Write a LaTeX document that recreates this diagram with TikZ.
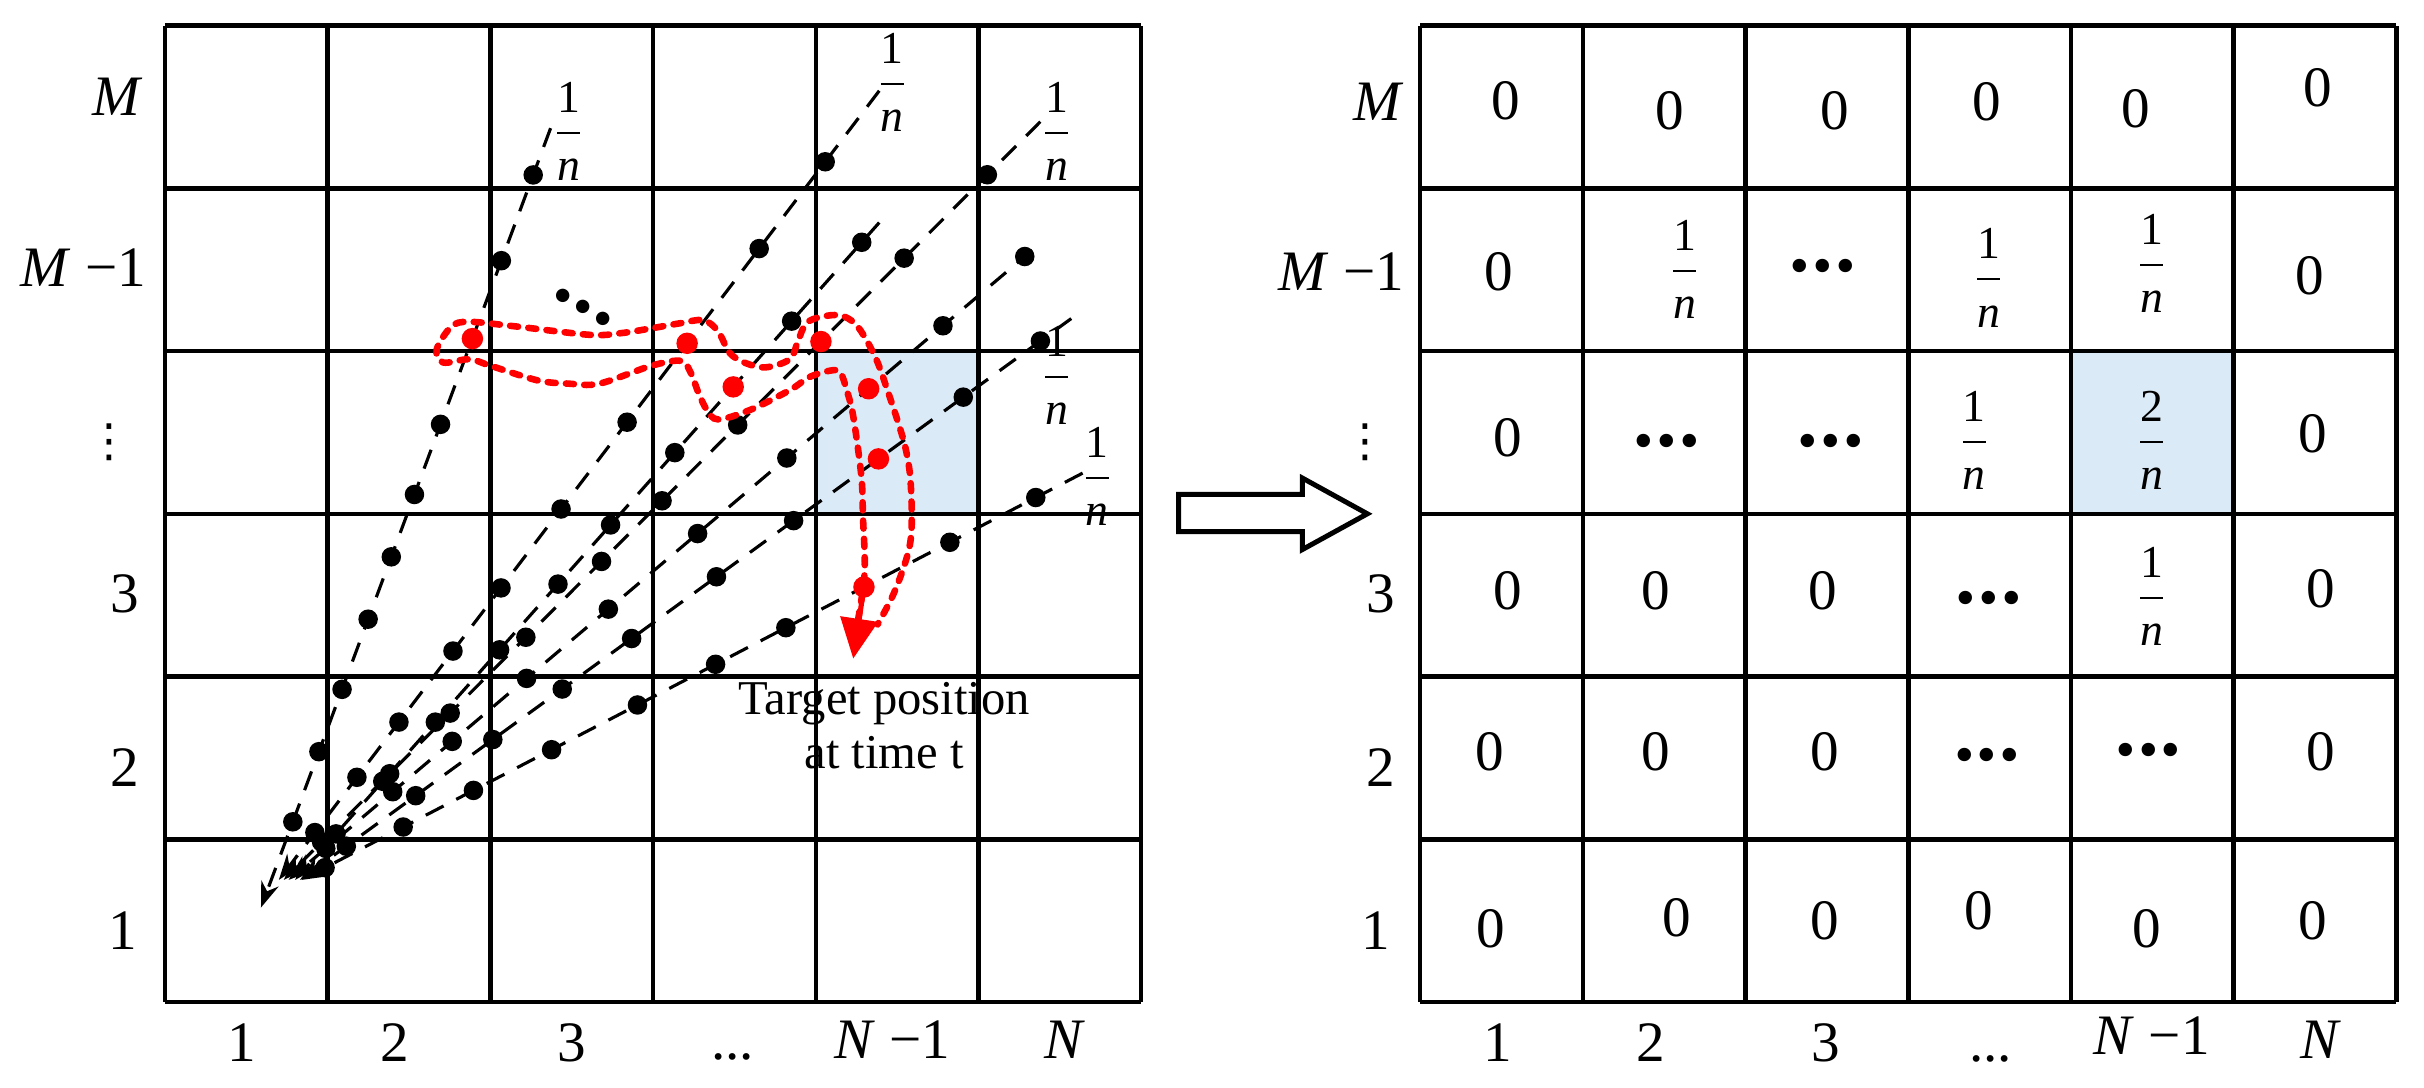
\documentclass[tikz,border=0pt]{standalone}
\usepackage{amsmath}
\usepackage{fontspec}
\setmainfont{Liberation Serif}
\newfontfamily\symfont{DejaVu Sans}
\usepackage{tikz}
\usetikzlibrary{arrows.meta, calc}

\definecolor{cellblue}{RGB}{219,234,247}
\definecolor{trackred}{RGB}{255,0,0}

\newcommand{\fracn}[1]{$\dfrac{\text{\footnotesize #1}}{\text{\footnotesize\itshape n}}$}
\newcommand{\celldots}{\textbf{\Large .\kern0.4pt.\kern0.4pt.}}
\newcommand{\coldots}{{\symfont\footnotesize ⋮}}

\begin{document}
\begin{tikzpicture}[
        gridline/.style={line width=0.8pt},
        trail/.style={line width=0.55pt, dash pattern=on 3.5pt off 2.5pt, -{Stealth[length=4.5pt, width=3.2pt]}},
        redtrail/.style={trackred, line width=1.15pt, line cap=round, dash pattern=on 1.4pt off 1.8pt},
        fracnode/.style={inner sep=0pt, font=\small}]
            \useasboundingbox (-1.014,-0.529) rectangle (13.884,6.158);

            \fill[cellblue] (4,3) rectangle (5,4);
            \draw[gridline] (0,0) grid (6,6);
            \begin{scope}[xshift=7.714cm]
                \fill[cellblue] (4,3) rectangle (5,4);
                \draw[gridline] (0,0) grid (6,6);
            \end{scope}

            \node at (-0.29, 5.56) (ly6) {\textit{M}};
            \node at (-0.50, 4.51) (ly5) {\textit{M} −1};
            \node at (-0.34, 3.44) (ly4) {\coldots};
            \node at (-0.25, 2.51) (ly3) {3};
            \node at (-0.25, 1.44) (ly2) {2};
            \node at (-0.26, 0.44) (ly1) {1};
            \node at (0.47, -0.25) (lx1) {1};
            \node at (1.41, -0.25) (lx2) {2};
            \node at (2.50, -0.25) (lx3) {3};
            \node at (3.49, -0.34) (lx4) {...};
            \node at (4.47, -0.23) (lx5) {\textit{N} −1};
            \node at (5.53, -0.23) (lx6) {\textit{N}};

            \coordinate (t1s) at (0.59, 0.58); \coordinate (t1e) at (2.37, 5.37);
            \coordinate (t2s) at (0.70, 0.75); \coordinate (t2e) at (4.39, 5.60);
            \coordinate (t3s) at (0.80, 0.75); \coordinate (t3e) at (4.39, 4.79);
            \coordinate (t4s) at (0.73, 0.75); \coordinate (t4e) at (5.38, 5.41);
            \coordinate (t5s) at (0.76, 0.75); \coordinate (t5e) at (5.33, 4.62);
            \coordinate (t6s) at (0.83, 0.75); \coordinate (t6e) at (5.57, 4.20);
            \coordinate (t7s) at (0.84, 0.75); \coordinate (t7e) at (5.64, 3.25);

            \foreach \t in {1,...,7}
                \draw[trail] (t\t e) -- (t\t s);

            \foreach \p in {0.11,0.20,0.28,0.37,0.45,0.53,0.62,0.83,0.94}
                \fill ($(t1s)!\p!(t1e)$) circle[radius=0.06];
            \foreach \p in {0.06,0.13,0.20,0.29,0.37,0.47,0.58,0.80,0.91}
                \fill ($(t2s)!\p!(t2e)$) circle[radius=0.06];
            \foreach \p in {0.07,0.15,0.24,0.35,0.45,0.54,0.65,0.85,0.97}
                \fill ($(t3s)!\p!(t3e)$) circle[radius=0.06];
            \foreach \p in {0.05,0.14,0.22,0.32,0.42,0.50,0.60,0.82,0.93}
                \fill ($(t4s)!\p!(t4e)$) circle[radius=0.06];
            \foreach \p in {0.05,0.14,0.22,0.32,0.43,0.55,0.67,0.88,0.99}
                \fill ($(t5s)!\p!(t5e)$) circle[radius=0.06];
            \foreach \p in {0.06,0.15,0.25,0.34,0.43,0.54,0.64,0.86,0.96}
                \fill ($(t6s)!\p!(t6e)$) circle[radius=0.06];
            \foreach \p in {0.03,0.13,0.22,0.32,0.43,0.53,0.62,0.83,0.94}
                \fill ($(t7s)!\p!(t7e)$) circle[radius=0.06];

            \node[fracnode] at (2.48, 5.35) (f1) {\fracn{1}};
            \node[fracnode] at (4.47, 5.65) (f2) {\fracn{1}};
            \node[fracnode] at (5.48, 5.35) (f4) {\fracn{1}};
            \node[fracnode] at (5.48, 3.85) (f6) {\fracn{1}};
            \node[fracnode] at (5.73, 3.23) (f7) {\fracn{1}};
            \node[rotate=-30] at (2.57, 4.27) (more) {\celldots};

            \draw[redtrail] plot[smooth, tension=0.55] coordinates {
                (4.26,2.35) (4.30,2.64) (4.29,2.98) (4.28,3.23) (4.23,3.60) (4.19,3.76)
                (4.15,3.87) (4.09,3.88) (3.96,3.84) (3.84,3.76) (3.60,3.64) (3.40,3.58)
                (3.33,3.64) (3.28,3.74) (3.23,3.87) (3.17,3.94) (2.99,3.91) (2.67,3.80)
                (2.48,3.80) (2.29,3.82) (2.00,3.91) (1.87,3.95) (1.71,3.93) (1.67,4.01)
                (1.76,4.15) (1.87,4.18) (2.17,4.15) (2.61,4.10) (2.80,4.11) (2.99,4.14)
                (3.16,4.17) (3.31,4.19) (3.40,4.12) (3.47,3.99) (3.56,3.93) (3.69,3.90)
                (3.84,3.95) (3.89,4.06) (3.94,4.17) (4.03,4.21) (4.15,4.22) (4.24,4.17)
                (4.31,4.07) (4.38,3.93) (4.44,3.76) (4.50,3.58) (4.55,3.41) (4.58,3.23)
                (4.59,2.98) (4.58,2.82) (4.54,2.67) (4.47,2.49) (4.38,2.32)};

            \foreach \t/\p in {1/0.73, 2/0.68, 3/0.75, 4/0.71, 5/0.78, 6/0.75, 7/0.72}
                \fill[trackred] ($(t\t s)!\p!(t\t e)$) circle[radius=0.066];
            \coordinate (r7) at ($(t7s)!0.72!(t7e)$);
            \coordinate (rtip) at (4.23, 2.11);
            \draw[trackred, line width=0.9pt, -{Triangle[length=7pt, width=6.5pt]}] (r7) -- (rtip);

            \node[align=center, font=\fontsize{8.5pt}{9.4pt}\selectfont] at (4.42, 1.70) (target) {Target position\\at time t};

            \draw[line width=0.87pt] (6.23,3.12) -- (6.99,3.12) -- (6.99,3.22) -- (7.39,3.00)
                -- (6.99,2.78) -- (6.99,2.89) -- (6.23,2.89) -- cycle;

            \node at (7.46, 5.53) (ry6) {\textit{M}};
            \node at (7.23, 4.49) (ry5) {\textit{M} −1};
            \node at (7.38, 3.44) (ry4) {\coldots};
            \node at (7.47, 2.51) (ry3) {3};
            \node at (7.47, 1.44) (ry2) {2};
            \node at (7.44, 0.44) (ry1) {1};
            \node at (8.19, -0.25) (rx1) {1};
            \node at (9.13, -0.25) (rx2) {2};
            \node at (10.21, -0.25) (rx3) {3};
            \node at (11.22, -0.35) (rx4) {...};
            \node at (12.21, -0.21) (rx5) {\textit{N} −1};
            \node at (13.25, -0.23) (rx6) {\textit{N}};

            \node at (8.24, 5.54) (v61) {0};
            \node at (9.25, 5.48) (v62) {0};
            \node at (10.26, 5.48) (v63) {0};
            \node at (11.20, 5.53) (v64) {0};
            \node at (12.11, 5.49) (v65) {0};
            \node at (13.23, 5.62) (v66) {0};

            \node at (8.20, 4.49) (v51) {0};
            \node[fracnode] at (9.34, 4.50) (v52) {\fracn{1}};
            \node at (10.19, 4.52) (v53) {\celldots};
            \node[fracnode] at (11.21, 4.45) (v54) {\fracn{1}};
            \node[fracnode] at (12.21, 4.54) (v55) {\fracn{1}};
            \node at (13.18, 4.46) (v56) {0};

            \node at (8.25, 3.47) (v41) {0};
            \node at (9.23, 3.45) (v42) {\celldots};
            \node at (10.24, 3.45) (v43) {\celldots};
            \node[fracnode] at (11.12, 3.45) (v44) {\fracn{1}};
            \node[fracnode] at (12.21, 3.45) (v45) {\fracn{2}};
            \node at (13.20, 3.49) (v46) {0};

            \node at (8.25, 2.53) (v31) {0};
            \node at (9.16, 2.53) (v32) {0};
            \node at (10.19, 2.53) (v33) {0};
            \node at (11.21, 2.48) (v34) {\celldots};
            \node[fracnode] at (12.21, 2.49) (v35) {\fracn{1}};
            \node at (13.25, 2.54) (v36) {0};

            \node at (8.14, 1.54) (v21) {0};
            \node at (9.16, 1.54) (v22) {0};
            \node at (10.20, 1.54) (v23) {0};
            \node at (11.20, 1.52) (v24) {\celldots};
            \node at (12.19, 1.55) (v25) {\celldots};
            \node at (13.25, 1.54) (v26) {0};

            \node at (8.15, 0.45) (v11) {0};
            \node at (9.29, 0.52) (v12) {0};
            \node at (10.20, 0.50) (v13) {0};
            \node at (11.15, 0.56) (v14) {0};
            \node at (12.18, 0.45) (v15) {0};
            \node at (13.20, 0.50) (v16) {0};
        \end{tikzpicture}
\end{document}
